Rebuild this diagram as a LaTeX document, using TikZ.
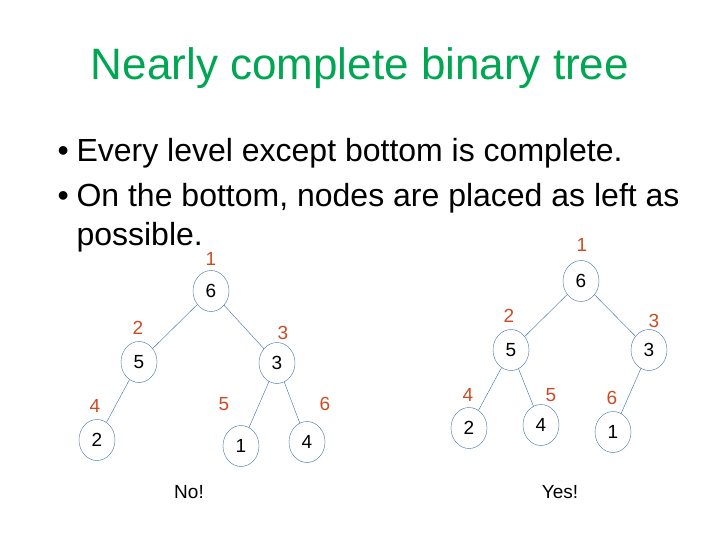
\documentclass[tikz,border=0pt]{standalone}
\usepackage{fontspec}
\setmainfont{Liberation Sans}
\usetikzlibrary{shapes.geometric}
\definecolor{titlegreen}{RGB}{0,166,81}
\definecolor{rank}{RGB}{205,75,35}
\definecolor{ring}{RGB}{60,110,170}
\tikzset{
  key/.style={draw=ring, line width=0.4pt, ellipse, minimum width=36pt, minimum height=41pt, inner sep=0pt, font=\fontsize{19}{21}\selectfont},
  idx/.style={text=rank, font=\fontsize{19}{21}\selectfont},
  link/.style={draw=ring, line width=0.4pt},
  point/.style={anchor=base west, font=\fontsize{32}{35}\selectfont}
}
\begin{document}
\begin{tikzpicture}[x=1pt,y=-1pt]
        \useasboundingbox (0,0) rectangle (720,540);
        \node[text=titlegreen, font=\fontsize{44}{48}\selectfont] (title) at (360,68) {Nearly complete binary tree};
        \node[point] (b1) at (54,162) {\makebox[19pt][l]{\textbullet}Every level except bottom is complete.};
        \node[point] (b2) at (54,207) {\makebox[19pt][l]{\textbullet}On the bottom, nodes are placed as left as};
        \node[point] (b3) at (73,245) {possible.};

        % left tree
        \node[key] (la) at (211,291) {6};
        \node[key] (lb) at (139,362) {5};
        \node[key] (lc) at (277,363) {3};
        \node[key] (ld) at (97,440) {2};
        \node[key] (le) at (241,446) {1};
        \node[key] (lf) at (307,442) {4};
        \draw[link] (la) -- (lb);
        \draw[link] (la) -- (lc);
        \draw[link] (lb) -- (ld);
        \draw[link] (lc) -- (le);
        \draw[link] (lc) -- (lf);
        \node[idx] (la1) at (211,259) {1};
        \node[idx] (lb1) at (138,328) {2};
        \node[idx] (lc1) at (283,333) {3};
        \node[idx] (ld1) at (95,406) {4};
        \node[idx] (le1) at (224,404) {5};
        \node[idx] (lf1) at (325,404) {6};
        \node[font=\fontsize{19}{21}\selectfont] (no) at (189,492) {No!};

        % right tree
        \node[key] (ra) at (581,281) {6};
        \node[key] (rb) at (511,350) {5};
        \node[key] (rc) at (649,350) {3};
        \node[key] (rd) at (469,428) {2};
        \node[key] (re) at (541,425) {4};
        \node[key] (rf) at (613,432) {1};
        \draw[link] (ra) -- (rb);
        \draw[link] (ra) -- (rc);
        \draw[link] (rb) -- (rd);
        \draw[link] (rb) -- (re);
        \draw[link] (rc) -- (rf);
        \node[idx] (ra1) at (582,245) {1};
        \node[idx] (rb1) at (509,316) {2};
        \node[idx] (rc1) at (654,321) {3};
        \node[idx] (rd1) at (468,395) {4};
        \node[idx] (re1) at (551,395) {5};
        \node[idx] (rf1) at (612,398) {6};
        \node[font=\fontsize{19}{21}\selectfont] (yes) at (560,492) {Yes!};
    \end{tikzpicture}
\end{document}
